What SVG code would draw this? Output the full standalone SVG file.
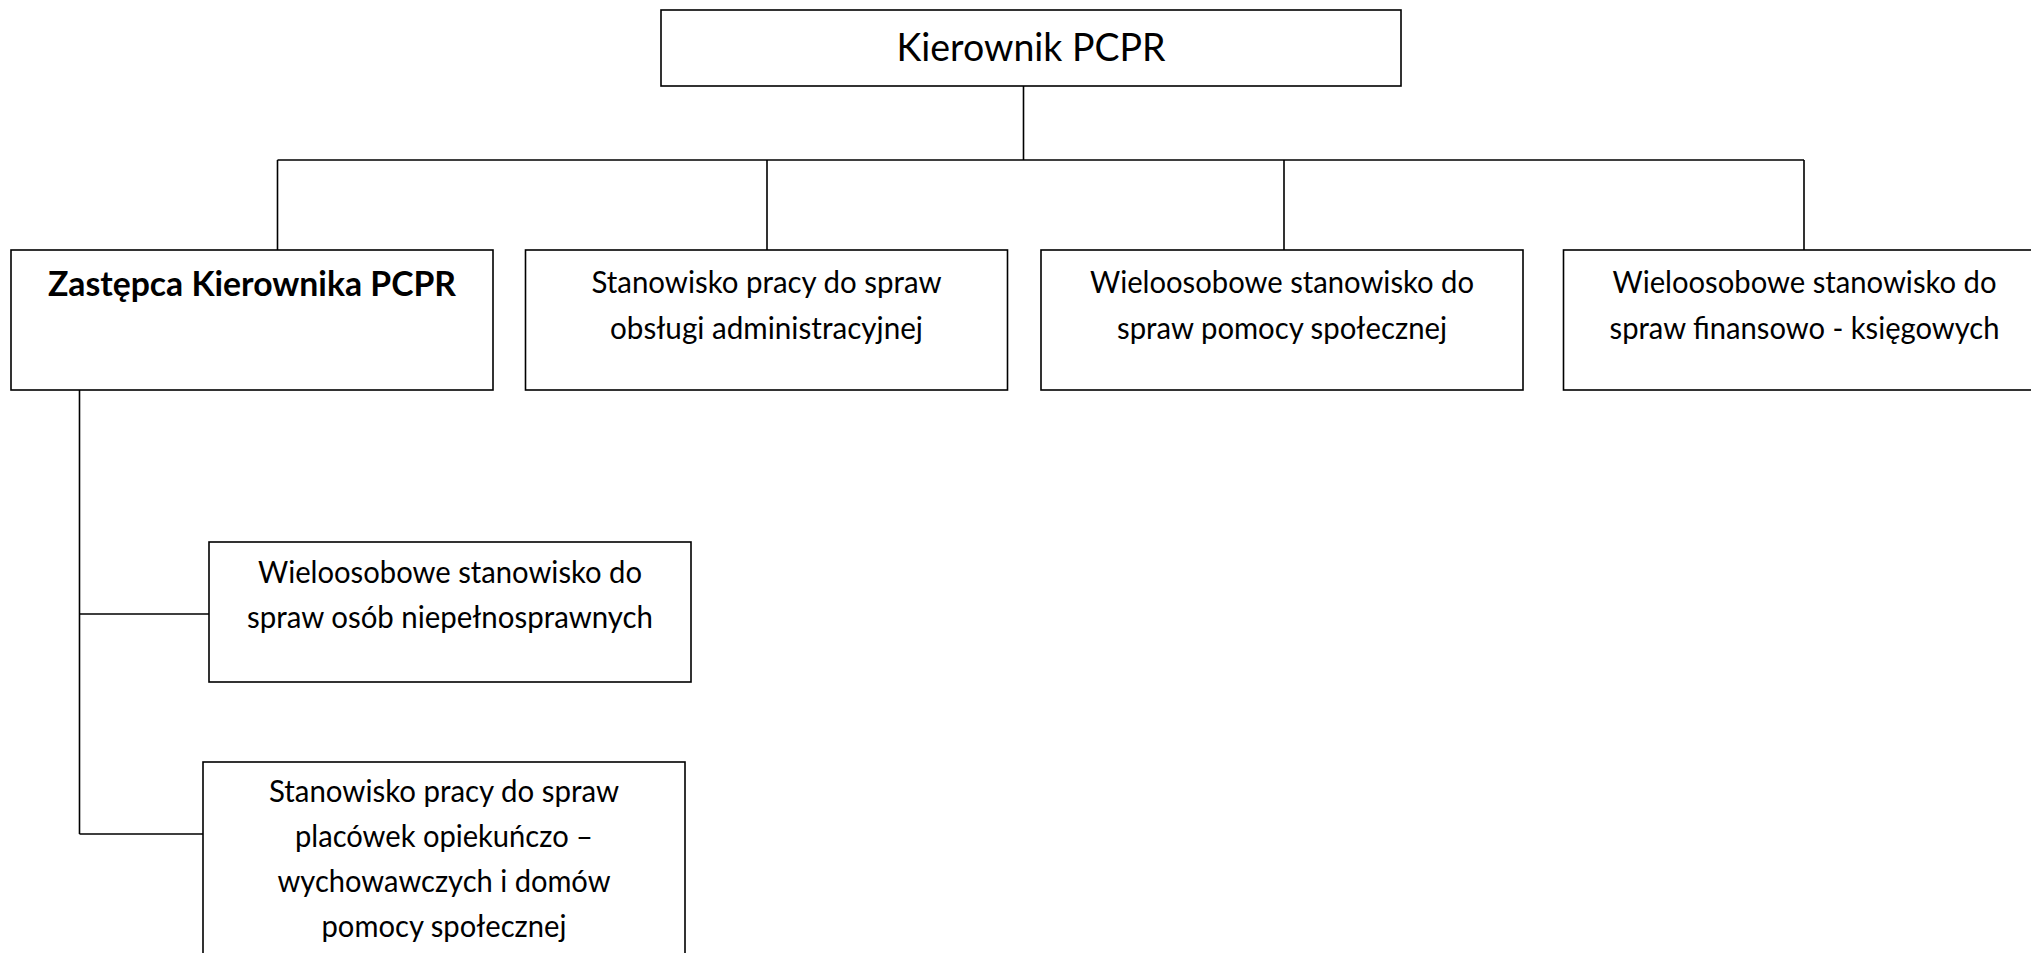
<svg xmlns="http://www.w3.org/2000/svg" width="2031" height="953" viewBox="0 0 2031 953">
<style>
.box{fill:#fff;stroke:#000;stroke-width:1.6}
.ln{stroke:#000;stroke-width:1.6;fill:none}
.t{font-family:Lato,"Open Sans","Liberation Sans",sans-serif;font-size:30px;fill:#000;text-anchor:middle}
.tb{font-family:Lato,"Open Sans","Liberation Sans",sans-serif;font-size:34px;font-weight:bold;fill:#000;text-anchor:middle}
.tt{font-family:Lato,"Open Sans","Liberation Sans",sans-serif;font-size:39px;fill:#000;text-anchor:middle}
</style>
<rect width="2031" height="953" fill="#fff"/>
<g id="connectors">
<path class="ln" d="M1023.5 86V160M277.5 160H1804M277.5 160V250M767 160V250M1284 160V250M1804 160V250"/>
<path class="ln" d="M79.5 390V834M79.5 614H209M79.5 834H203"/>
</g>
<g id="kierownik">
<rect class="box" x="661" y="10" width="740" height="76"/>
<text class="tt" x="1031" y="61" textLength="269" lengthAdjust="spacingAndGlyphs">Kierownik PCPR</text>
</g>
<g id="zastepca">
<rect class="box" x="11" y="250" width="482" height="140"/>
<text class="tb" x="252" y="296" textLength="408" lengthAdjust="spacingAndGlyphs">Zastępca Kierownika PCPR</text>
</g>
<g id="administracja">
<rect class="box" x="525.5" y="250" width="482" height="140"/>
<text class="t" x="766.5" y="293" textLength="350" lengthAdjust="spacingAndGlyphs">Stanowisko pracy do spraw</text>
<text class="t" x="766.5" y="338.5" textLength="313" lengthAdjust="spacingAndGlyphs">obsługi administracyjnej</text>
</g>
<g id="pomoc">
<rect class="box" x="1041" y="250" width="482" height="140"/>
<text class="t" x="1282" y="293" textLength="384" lengthAdjust="spacingAndGlyphs">Wieloosobowe stanowisko do</text>
<text class="t" x="1282" y="338.5" textLength="330" lengthAdjust="spacingAndGlyphs">spraw pomocy społecznej</text>
</g>
<g id="finanse">
<rect class="box" x="1563.5" y="250" width="482" height="140"/>
<text class="t" x="1804.5" y="293" textLength="384" lengthAdjust="spacingAndGlyphs">Wieloosobowe stanowisko do</text>
<text class="t" x="1804.5" y="338.5" textLength="390" lengthAdjust="spacingAndGlyphs">spraw finansowo - księgowych</text>
</g>
<g id="niepelnosprawni">
<rect class="box" x="209" y="542" width="482" height="140"/>
<text class="t" x="450" y="583" textLength="384" lengthAdjust="spacingAndGlyphs">Wieloosobowe stanowisko do</text>
<text class="t" x="450" y="627.5" textLength="406" lengthAdjust="spacingAndGlyphs">spraw osób niepełnosprawnych</text>
</g>
<g id="placowki">
<rect class="box" x="203" y="762" width="482" height="220"/>
<text class="t" x="444" y="801.5" textLength="350" lengthAdjust="spacingAndGlyphs">Stanowisko pracy do spraw</text>
<text class="t" x="444" y="847" textLength="298" lengthAdjust="spacingAndGlyphs">placówek opiekuńczo –</text>
<text class="t" x="444" y="892" textLength="333" lengthAdjust="spacingAndGlyphs">wychowawczych i domów</text>
<text class="t" x="444" y="937" textLength="245" lengthAdjust="spacingAndGlyphs">pomocy społecznej</text>
</g>
</svg>
